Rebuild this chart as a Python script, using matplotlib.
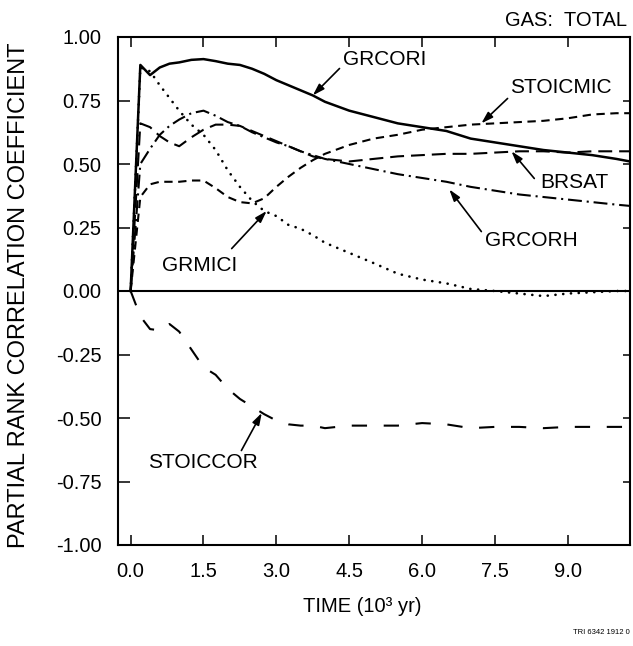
import matplotlib
matplotlib.use('Agg')
import matplotlib.pyplot as plt

plt.rcParams['font.family'] = ['Liberation Sans', 'DejaVu Sans']
plt.rcParams['lines.scale_dashes'] = False

# ---- data (time in 10^3 yr) ----
time = [0.0, 0.2, 0.4, 0.6, 0.8, 1.0, 1.25, 1.5, 1.75, 2.0, 2.25, 2.5, 2.75,
        3.0, 3.25, 3.5, 3.75, 4.0, 4.5, 5.0, 5.5, 6.0, 6.5, 7.0, 7.5, 8.0,
        8.5, 9.0, 9.5, 10.0, 10.28]

grcori = [0.0, 0.89, 0.85, 0.88, 0.895, 0.90, 0.91, 0.913, 0.905, 0.895, 0.89,
          0.875, 0.855, 0.83, 0.81, 0.79, 0.77, 0.745, 0.71, 0.685, 0.66, 0.645,
          0.63, 0.60, 0.585, 0.57, 0.555, 0.545, 0.535, 0.52, 0.51]

grmici = [0.0, 0.88, 0.865, 0.81, 0.76, 0.71, 0.655, 0.615, 0.555, 0.475, 0.41,
          0.355, 0.315, 0.295, 0.26, 0.245, 0.22, 0.19, 0.15, 0.11, 0.068, 0.045,
          0.03, 0.008, 0.0, -0.01, -0.02, -0.01, -0.005, 0.0, 0.0]

grcorh = [0.0, 0.50, 0.56, 0.615, 0.65, 0.675, 0.70, 0.71, 0.69, 0.665, 0.65,
          0.625, 0.605, 0.585, 0.57, 0.55, 0.535, 0.52, 0.50, 0.48, 0.46, 0.445,
          0.43, 0.41, 0.395, 0.38, 0.37, 0.36, 0.35, 0.34, 0.335]

brsat = [0.0, 0.66, 0.645, 0.61, 0.585, 0.57, 0.605, 0.635, 0.655, 0.655, 0.65,
         0.63, 0.61, 0.59, 0.57, 0.55, 0.53, 0.52, 0.51, 0.52, 0.53, 0.535,
         0.54, 0.54, 0.545, 0.55, 0.55, 0.545, 0.55, 0.55, 0.55]

stoicmic = [0.0, 0.37, 0.42, 0.43, 0.43, 0.43, 0.435, 0.435, 0.405, 0.37, 0.35,
            0.345, 0.365, 0.41, 0.45, 0.485, 0.515, 0.54, 0.575, 0.60, 0.615,
            0.635, 0.645, 0.655, 0.66, 0.665, 0.67, 0.68, 0.695, 0.70, 0.70]

stoiccor = [0.0, -0.10, -0.15, -0.155, -0.13, -0.16, -0.23, -0.30, -0.33, -0.385,
            -0.425, -0.455, -0.485, -0.51, -0.525, -0.53, -0.53, -0.54, -0.53,
            -0.53, -0.53, -0.52, -0.525, -0.54, -0.535, -0.535, -0.54, -0.535,
            -0.535, -0.535, -0.535]

xticks = [0.0, 1.5, 3.0, 4.5, 6.0, 7.5, 9.0]
xticklabels = ['0.0', '1.5', '3.0', '4.5', '6.0', '7.5', '9.0']
yticks = [-1.0, -0.75, -0.5, -0.25, 0.0, 0.25, 0.5, 0.75, 1.0]
yticklabels = ['-1.00', '-0.75', '-0.50', '-0.25', '0.00', '0.25', '0.50', '0.75', '1.00']

W, H = 633, 646
fig = plt.figure(figsize=(W / 100, H / 100), dpi=100)
ax = fig.add_axes([118 / W, 1 - 545 / H, (630 - 118) / W, (545 - 37) / H])

ax.axhline(0, color='black', lw=1.5)
ax.plot(time, grcori, color='black', lw=1.8, ls='-')
ax.plot(time, grmici, color='black', lw=1.9, ls=(0, (0.1, 5.5)), dash_capstyle='round')
ax.plot(time, grcorh, color='black', lw=1.5, ls=(0, (10, 3.5, 1.5, 3.5)))
ax.plot(time, brsat, color='black', lw=1.5, ls=(0, (10, 5)))
ax.plot(time, stoicmic, color='black', lw=1.5, ls=(0, (6, 4)))
ax.plot(time, stoiccor, color='black', lw=1.5, ls=(0, (11, 12)))

ax.set_xlim(-0.26, 10.28)
ax.set_ylim(-1.0, 1.0)
ax.set_xticks(xticks)
ax.set_xticklabels(xticklabels)
ax.set_yticks(yticks)
ax.set_yticklabels(yticklabels)
ax.tick_params(axis='x', direction='in', length=7, width=1.1, top=True, bottom=True,
               labelsize=14.5, pad=12)
ax.tick_params(axis='y', direction='in', length=8.5, width=1.1, left=True, right=True,
               labelsize=14.5, pad=12)
for t in ax.yaxis.get_major_ticks():
    t.tick2line.set_markersize(5)
for s in ax.spines.values():
    s.set_linewidth(1.5)

# annotations
arrow = dict(arrowstyle='-|>,head_length=0.7,head_width=0.22', color='black', lw=1.2,
             shrinkA=0, shrinkB=0)
labels = [
    ('GRCORI', (5.23, 0.913), (4.30, 0.876), (3.75, 0.77)),
    ('STOICMIC', (8.85, 0.80), (7.76, 0.758), (7.22, 0.66)),
    ('BRSAT', (9.14, 0.427), (8.31, 0.443), (7.84, 0.55)),
    ('GRCORH', (8.25, 0.199), (7.22, 0.234), (6.56, 0.40)),
    ('GRMICI', (1.43, 0.10), (2.08, 0.167), (2.80, 0.315)),
    ('STOICCOR', (1.48, -0.677), (2.28, -0.628), (2.70, -0.48)),
]
for name, txt, start, tip in labels:
    ax.text(txt[0], txt[1], name, ha='center', va='center', fontsize=15)
    ax.annotate('', xy=tip, xytext=start, arrowprops=arrow)

fig.text(627 / W, 1 - 20.5 / H, 'GAS:  TOTAL', ha='right', va='center', fontsize=14.5)
fig.text(19 / W, 1 - 295 / H, 'PARTIAL RANK CORRELATION COEFFICIENT', rotation=90,
         ha='center', va='center', fontsize=17)
fig.text(362 / W, 1 - 606 / H, 'TIME (10³ yr)', ha='center', va='center', fontsize=14.5)
fig.text(630 / W, 1 - 632 / H, 'TRI 6342 1912 0', ha='right', va='center', fontsize=5.5)

fig.savefig('out.png', dpi=100)
